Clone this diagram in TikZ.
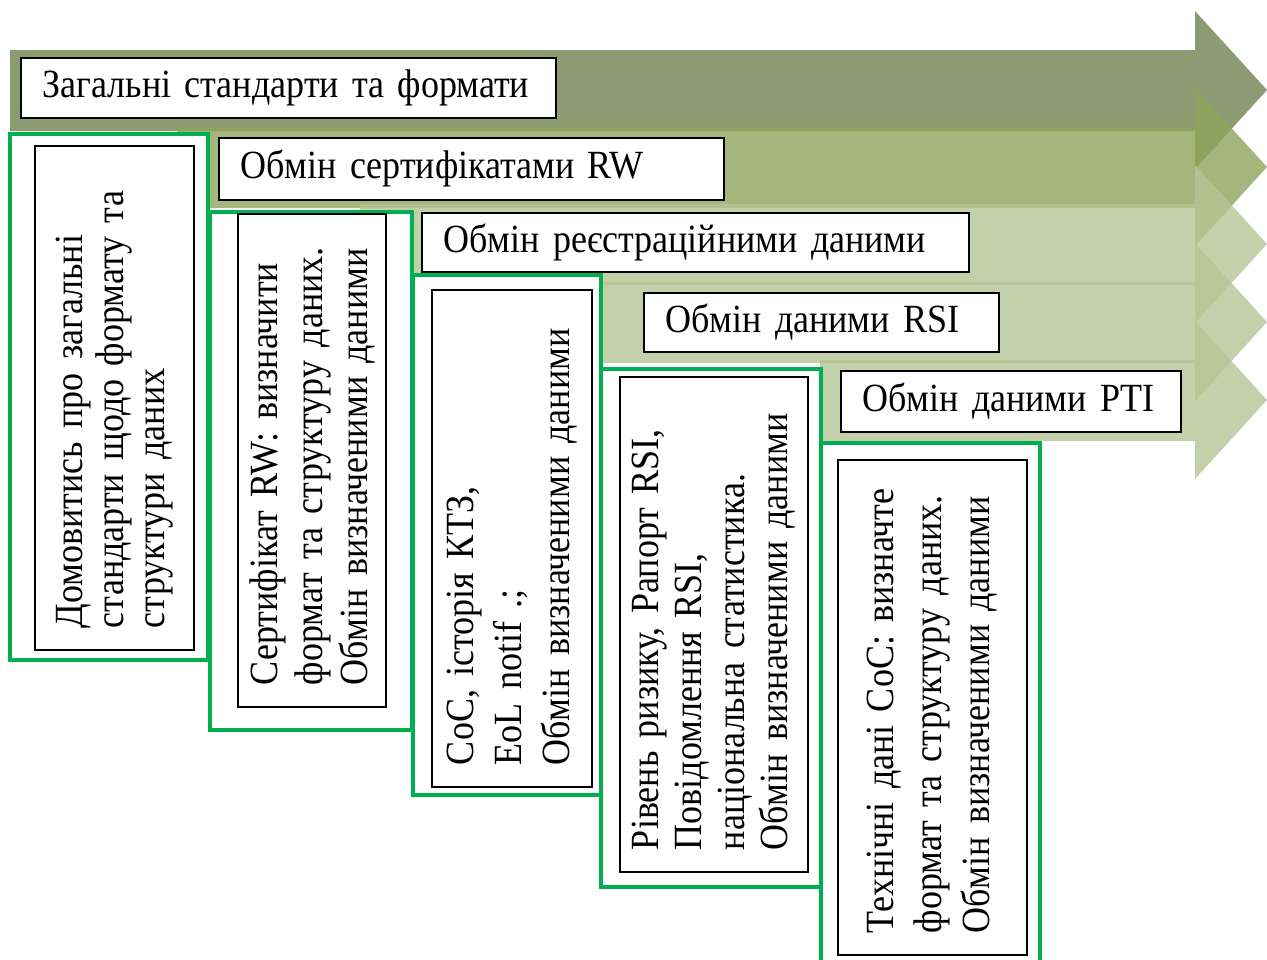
\documentclass[tikz,border=0pt]{standalone}
\usepackage{fontspec}
\setmainfont{Liberation Serif}[FakeStretch=0.9]
\usepackage{tikz}
\definecolor{bandA}{HTML}{70824F}
\definecolor{bandB}{HTML}{8DA45B}
\definecolor{bandC}{HTML}{B5C494}
\definecolor{boxgreen}{HTML}{00B050}
\tikzset{
    lblbox/.style={draw=black, line width=1.5pt, fill=white, anchor=north west,
        minimum height=60pt, inner xsep=22pt, inner ysep=0pt, align=left,
        font=\fontsize{40}{42}\selectfont},
    grnbox/.style={draw=boxgreen, line width=4pt, fill=white},
    txtbox/.style={draw=black, line width=1.3pt, fill=white, rotate=90,
        inner xsep=22pt, inner ysep=0pt, align=left,
        font=\fontsize{40}{43}\selectfont}
}
\newcommand{\bandarrow}[3]{
    \fill[#3, fill opacity=0.8] (#1,#2) -- (1195,#2) -- (1195,#2-39) -- (1267,#2+40)
        -- (1195,#2+119) -- (1195,#2+81) -- (#1,#2+81) -- cycle;
}

\begin{document}
\begin{tikzpicture}[x=1pt, y=-1pt]
    \useasboundingbox (0,0) rectangle (1267,959);
    \bandarrow{10}{50}{bandA}
    \bandarrow{177}{127}{bandB}
    \bandarrow{360}{204}{bandC}
    \bandarrow{601}{282}{bandC}
    \bandarrow{820}{360}{bandC}

    \node[grnbox, minimum width=198pt, minimum height=526pt] (g1) at (109,397) {};
    \node[grnbox, minimum width=202pt, minimum height=518pt] (g2) at (311,471) {};
    \node[grnbox, minimum width=188pt, minimum height=520pt] (g3) at (507,535) {};
    \node[grnbox, minimum width=220pt, minimum height=518pt] (g4) at (711,628) {};
    \node[grnbox, minimum width=219pt, minimum height=532pt] (g5) at (930.5,709) {};

    \node[txtbox, minimum width=504pt, minimum height=159pt, text width=460pt,
        font=\fontsize{40}{41}\selectfont] (t1) at (114.5,398)
        {Домовитись про загальні\\стандарти щодо формату та\\структури даних};
    \node[txtbox, minimum width=493pt, minimum height=148pt, text width=449pt,
        font=\fontsize{40}{45}\selectfont] (t2) at (312,460.5)
        {Сертифікат RW: визначити\\формат та структуру даних.\\Обмін визначеними даними};
    \node[txtbox, minimum width=497pt, minimum height=160pt, text width=453pt,
        font=\fontsize{40}{48}\selectfont] (t3) at (512,538.5)
        {CoC, історія КТЗ,\\EoL notif .;\\Обмін визначеними даними};
    \node[txtbox, minimum width=495pt, minimum height=188pt, text width=451pt] (t4) at (714,624.5)
        {Рівень ризику, Рапорт RSI,\\Повідомлення RSI,\\національна статистика.\\Обмін визначеними даними};
    \node[txtbox, minimum width=495pt, minimum height=189pt, text width=451pt,
        font=\fontsize{40}{48}\selectfont] (t5) at (932.5,707.5)
        {Технічні дані CoC: визначте\\формат та структуру даних.\\Обмін визначеними даними};

    \node[lblbox, text width=491pt] (l1) at (20,57) {Загальні стандарти та формати};
    \node[lblbox, text width=461pt, minimum height=62pt] (l2) at (218,137) {Обмін сертифікатами RW};
    \node[lblbox, text width=503pt, minimum height=59pt] (l3) at (421,212) {Обмін реєстраційними даними};
    \node[lblbox, text width=311pt, minimum height=59pt] (l4) at (643,292) {Обмін даними RSI};
    \node[lblbox, text width=296pt, minimum height=61pt] (l5) at (840,370) {Обмін даними PTI};
\end{tikzpicture}
\end{document}
